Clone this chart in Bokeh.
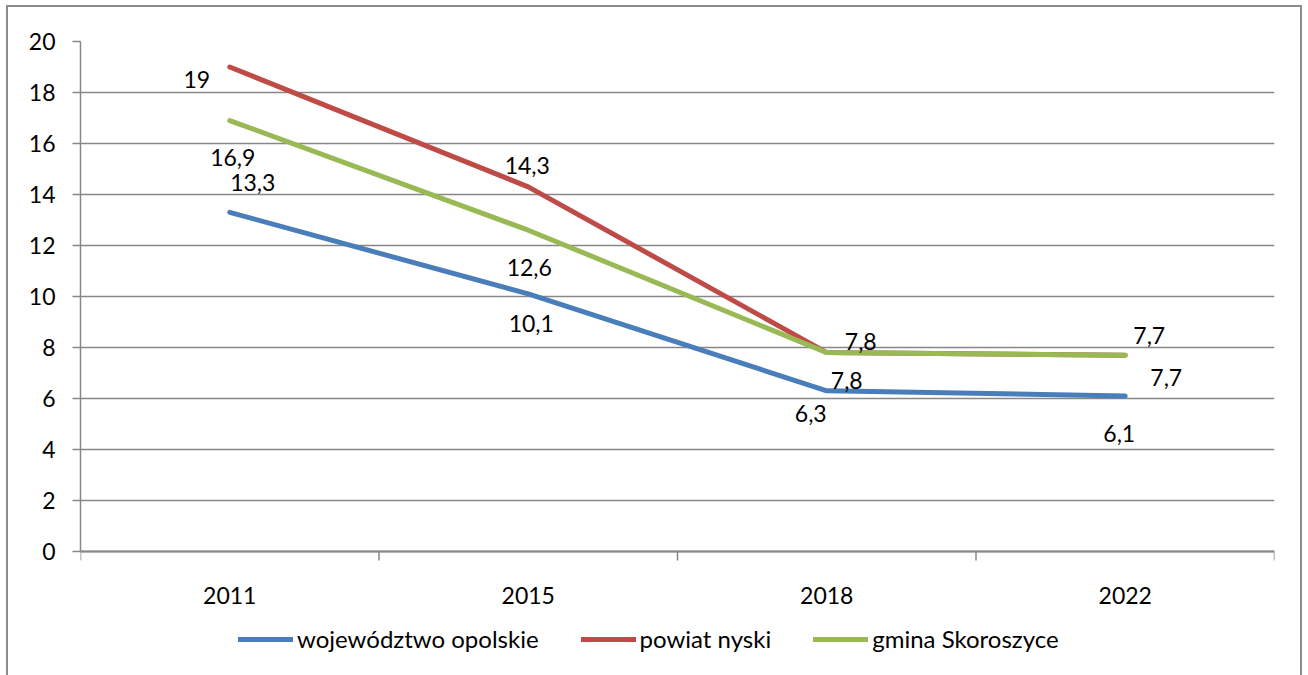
from bokeh.plotting import figure
from bokeh.models import Range1d, FixedTicker, Legend, LegendItem, ColumnDataSource
from bokeh.core.properties import value
from bokeh.embed import file_html
from bokeh.resources import INLINE

# ---- data ----
years = ["2011", "2015", "2018", "2022"]
wojewodztwo_opolskie = [13.3, 10.1, 6.3, 6.1]
powiat_nyski = [19, 14.3, 7.8, 7.7]
gmina_skoroszyce = [16.9, 12.6, 7.8, 7.7]
series_names = ["województwo opolskie", "powiat nyski", "gmina Skoroszyce"]
y_ticks = [0, 2, 4, 6, 8, 10, 12, 14, 16, 18, 20]

# ---- styles ----
colors = ["#4a7ebb", "#be4b48", "#98b954"]
label_offsets = [
    ([23, 3, -16, -6], [-30, 30, 23, 38]),
    ([-33, -1, 34, 24], [12, -21, -11, -20]),
    ([3, 1, 20, 41], [37, 37, 28, 22]),
]
FONT = "Lato"
FS = "23px"
GRAY = "#878787"
BORDER = "2px solid #8c8c8c"

PLOT_PX = 510          # pixel height of the 0..20 value band
BELOW_PX = 124         # space under the value band for x labels and legend
y_max = y_ticks[-1]
px_per_unit = PLOT_PX / y_max
y_min = -BELOW_PX / px_per_unit
tick_len = 9 / px_per_unit

xs = [i + 0.5 for i in range(len(years))]
bounds_x = list(range(len(years) + 1))

p = figure(frame_width=1194, frame_height=PLOT_PX + BELOW_PX,
           output_backend="svg", toolbar_location=None, x_axis_location=None,
           x_range=Range1d(0, len(years)), y_range=Range1d(y_min, y_max),
           min_border_left=72, min_border_right=26, min_border_top=34, min_border_bottom=0,
           styles={"border-left": BORDER, "border-top": BORDER, "border-right": BORDER,
                   "margin-left": "6px", "margin-top": "5px"})
p.outline_line_color = None
p.background_fill_color = "white"
p.border_fill_color = "white"

# grid
p.xgrid.grid_line_color = None
p.ygrid.ticker = FixedTicker(ticks=y_ticks)
p.ygrid.grid_line_color = GRAY
p.ygrid.grid_line_width = 1.5

# y axis
ya = p.yaxis[0]
ya.ticker = FixedTicker(ticks=y_ticks)
ya.bounds = (0, y_max)
ya.axis_line_color = GRAY
ya.axis_line_width = 1.5
ya.major_tick_line_color = GRAY
ya.major_tick_line_width = 1.5
ya.major_tick_out = 8
ya.major_tick_in = 0
ya.minor_tick_line_color = None
ya.major_label_standoff = 17
ya.major_label_text_font = FONT
ya.major_label_text_font_size = FS
ya.major_label_text_color = "black"

# category axis: boundary tick marks and centred year labels
p.segment(x0=bounds_x, y0=[0] * len(bounds_x), x1=bounds_x, y1=[-tick_len] * len(bounds_x),
          line_color=GRAY, line_width=1.5)
p.segment(x0=[0], y0=[0], x1=[len(years)], y1=[0], line_color=GRAY, line_width=2)
p.text(x=xs, y=[0] * len(xs), text=years, y_offset=44,
       text_font=value(FONT), text_font_size=FS, text_color="black",
       text_align="center", text_baseline="middle")

items = []
all_series = [wojewodztwo_opolskie, powiat_nyski, gmina_skoroszyce]
for name, vals, col in zip(series_names, all_series, colors):
    r = p.line(xs, vals, line_color=col, line_width=5, line_cap="round", line_join="round")
    items.append(LegendItem(label=name, renderers=[r]))

for vals, (dx, dy) in zip(all_series, label_offsets):
    src = ColumnDataSource(dict(x=xs, y=vals,
                                t=[f"{v:g}".replace(".", ",") for v in vals],
                                dx=dx, dy=dy))
    p.text(x="x", y="y", text="t", x_offset="dx", y_offset="dy", source=src,
           text_font=value(FONT), text_font_size=FS, text_color="black",
           text_align="center", text_baseline="middle")

legend = Legend(items=items, orientation="horizontal", location=(158, 22),
                border_line_color=None, background_fill_alpha=0,
                padding=0, margin=0, spacing=42, label_standoff=4,
                glyph_width=55, glyph_height=20, label_height=20,
                label_text_font=FONT, label_text_font_size="24px", label_text_color="black")
p.add_layout(legend, "center")

open("out.html", "w").write(file_html(p, INLINE))
